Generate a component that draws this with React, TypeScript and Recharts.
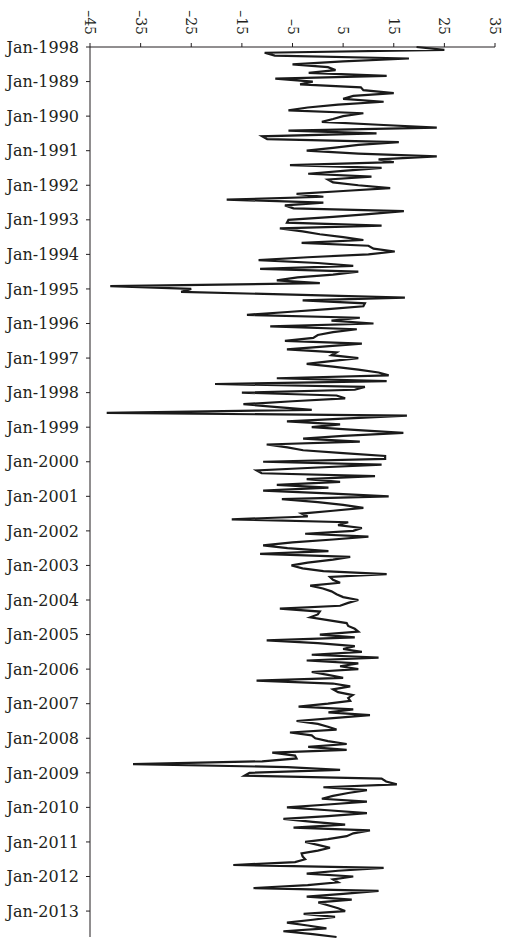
import React from 'react';
import { LineChart, Line, XAxis, YAxis } from 'recharts';

const START_YEAR = 1988;
const MONTH_NAMES = ['Jan', 'Feb', 'Mar', 'Apr', 'May', 'Jun', 'Jul', 'Aug', 'Sep', 'Oct', 'Nov', 'Dec'];

// monthly values (Jan-1988 .. Oct-2013)
const VALUES = [
  19.5, 25, -10.5, -8.5, 18, 5, -5, 2, 3.5, -1.8, 13.6, -8.4,
  -1, -3.5, 8.5, 9, 15, 7, 5, 13, 4, -2, -5.8, 9,
  5, 3, 0.8, 12, 23.5, -5.8, 11.6, -11, -10, 16, 8, 3,
  -2.2, 8, 23.5, 12, 15, -5.5, 12.6, 5, -1.9, 10.6, 2, 3,
  8, 14.3, 5, -4.2, 1.1, -18, 1.1, -6.5, -4.8, 17, 10, 3,
  -5.8, -6.1, 12.6, -7.5, -3, 0.4, 5, 9, -3.2, 10, 11, 15.2,
  10, -2, -11.7, 0, 7, -11.4, 8, 3, -4, -8.1, 0.4, -41,
  -25, -27, -5, 17.2, -3, 9.3, 9, 2, -6, -14, 8.3, 2.7,
  11, -9.4, 7.7, 3, 0, -0.9, -6.5, 8.7, 1, -6.1, 3.7, 2.7,
  8, 3, -2.2, 3, 8, 12, 14, -8.1, 13.6, -20.3, 9.3, 7.3,
  -15, 3.7, 5.4, -5, -14.7, -8, -1.2, -41.7, 17.6, 5, -6.1, 4.4,
  -1.2, 8, 16.9, 5, -2.9, 8.3, -10.1, -6, -2.9, 5, 13.3, 13.3,
  -10.8, 12.6, 0, -12.1, -11.1, 11.3, -2.2, 4.4, -8.1, 2.1, -10.8, 2,
  14, -7.1, 0, 5, 9, 3, -3.2, -2, -17, 6, 4, 8.7,
  7, -2.5, 10, 3, -5, -10.8, -6, 2.1, -11.4, 6.4, 3, -2,
  -5.2, -3, 1.1, 13.6, 2.4, 3, 4.4, -1.5, 1, 2.7, 3.7, 5,
  8, 6, 4.4, -7.5, 0.4, 0, -1.5, 2, 5.7, 6, 7.3, 8,
  0.4, 7.3, -10.1, 0, 7.3, 5, 8.7, -1.2, 12, -2.2, 8, 4.4,
  8, -1.2, 2, 5, -12.1, 3, 6.4, 3, 4, 6.9, 6, 6.4,
  2, -3.8, 7, 2.1, 10.3, 3, -4.2, 0, 2, 3.7, -5.5, -1.2,
  -0.5, 2, 5.7, -1.9, 5.7, -9, -4.5, -4.2, -11, -36.5, -6, 4.4,
  -13.5, -14.5, 12.6, 13.5, 15.6, 1.1, 9.7, 6, 3, 0.8, 9.7, 2,
  -6.1, 2, 9.7, 2, -6.8, -1, 5.4, -4.8, 10.3, 7, 5.7, 2,
  -2.5, 0, 2.4, 0, -3.2, -3, -2.5, -4.5, -16.7, 13, 4, -2.2,
  7, 3, 4, -2, -12.7, 12, 5, -2.2, 6.7, 0.1, 2, 4,
  5.4, -2.8, 3.4, -1, -6.1, -2, 1.7, -6.8, -1, 3.7,
];

const X_TICKS = [-45, -35, -25, -15, -5, 5, 15, 25, 35];

const Y_TICK_LABELS = [
  'Jan-1998', 'Jan-1989', 'Jan-1990', 'Jan-1991', 'Jan-1992', 'Jan-1993', 'Jan-1994',
  'Jan-1995', 'Jan-1996', 'Jan-1997', 'Jan-1998', 'Jan-1999', 'Jan-2000', 'Jan-2001',
  'Jan-2002', 'Jan-2003', 'Jan-2004', 'Jan-2005', 'Jan-2006', 'Jan-2007', 'Jan-2008',
  'Jan-2009', 'Jan-2010', 'Jan-2011', 'Jan-2012', 'Jan-2013',
];

const MONTHS = VALUES.map((_, i) => `${MONTH_NAMES[i % 12]}-${START_YEAR + Math.floor(i / 12)}`);
const Y_TICKS = MONTHS.filter((_, i) => i % 12 === 0);
const data = VALUES.map((v, i) => ({ month: MONTHS[i], value: v }));

const FONT = '"DejaVu Serif", serif';
const INK = '#231f20';

const TopTick = ({ x, y, payload }: any) => (
  <text
    transform={`translate(${x},${y}) rotate(90)`}
    textAnchor="end"
    dominantBaseline="central"
    fontFamily={FONT}
    fontSize={14}
    fill={INK}
  >
    {payload.value < 0 ? `\u2013${Math.abs(payload.value)}` : payload.value}
  </text>
);

export default function App() {
  return (
    <div style={{ position: 'absolute', left: 0, top: 0, background: '#fff' }}>
      <LineChart
        width={511}
        height={941}
        data={data}
        layout="vertical"
        margin={{ top: 0, right: 16, bottom: 4, left: 0 }}
      >
        <XAxis
          type="number"
          orientation="top"
          domain={[-45, 35]}
          ticks={X_TICKS}
          height={47}
          tickSize={4}
          tickMargin={8}
          tick={<TopTick />}
          stroke={INK}
          allowDataOverflow
        />
        <YAxis
          type="category"
          dataKey="month"
          width={90}
          ticks={Y_TICKS}
          interval={0}
          tickSize={4}
          tickMargin={7}
          tickFormatter={(v: string) => Y_TICK_LABELS[Y_TICKS.indexOf(v)]}
          tick={{ fontFamily: FONT, fontSize: 16, fill: INK }}
          stroke={INK}
        />
        <Line
          dataKey="value"
          type="linear"
          stroke="#1a1a1a"
          strokeWidth={2.2}
          dot={false}
          isAnimationActive={false}
        />
      </LineChart>
    </div>
  );
}
